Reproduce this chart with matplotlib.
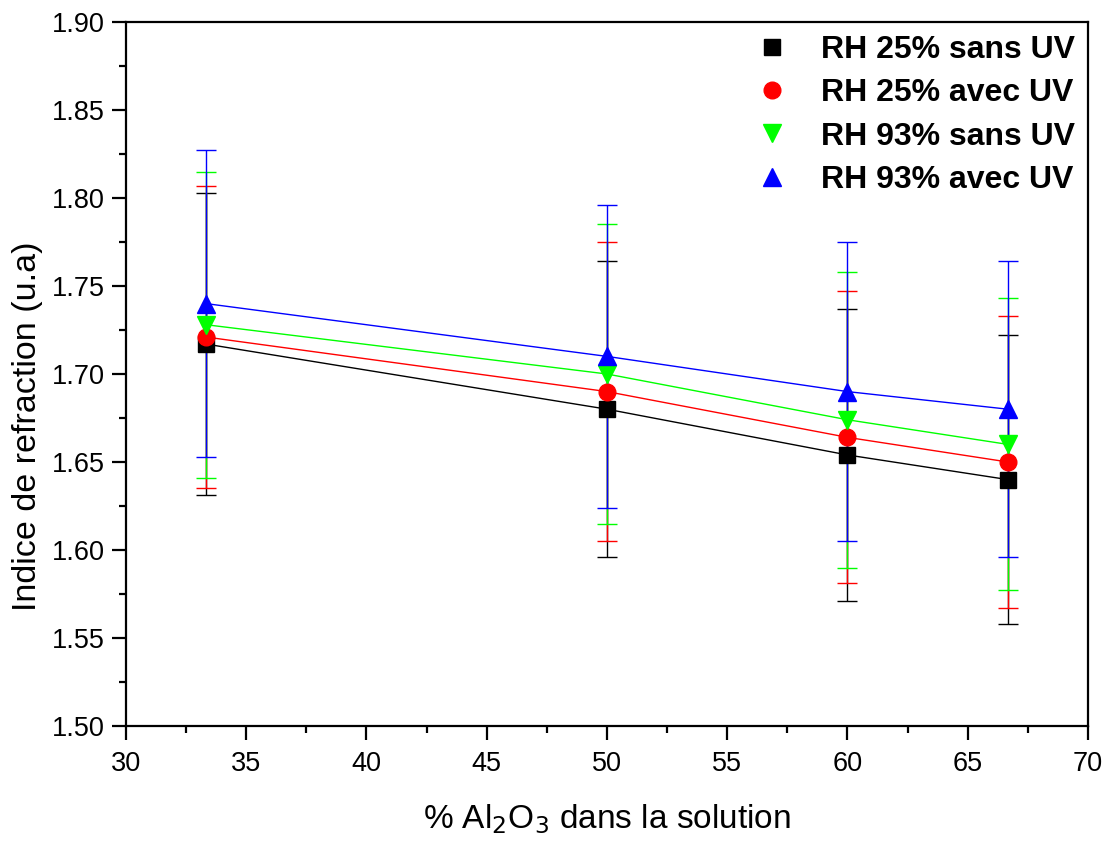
import numpy as np
import matplotlib.pyplot as plt
from matplotlib.ticker import MultipleLocator

plt.rcParams['font.family'] = ['Liberation Sans', 'DejaVu Sans']

# % Al2O3 in solution
x_al2o3 = [33.33, 50.0, 60.0, 66.67]

labels = ['RH 25% sans UV', 'RH 25% avec UV', 'RH 93% sans UV', 'RH 93% avec UV']

rh25_sans = [1.717, 1.680, 1.654, 1.640]
rh25_avec = [1.721, 1.690, 1.664, 1.650]
rh93_sans = [1.728, 1.700, 1.674, 1.660]
rh93_avec = [1.740, 1.710, 1.690, 1.680]

err_rh25_sans = [0.086, 0.084, 0.083, 0.082]
err_rh25_avec = [0.086, 0.085, 0.083, 0.083]
err_rh93_sans = [0.087, 0.085, 0.084, 0.083]
err_rh93_avec = [0.087, 0.086, 0.085, 0.084]

series = [
    (rh25_sans, err_rh25_sans, 'black', 's', 11),
    (rh25_avec, err_rh25_avec, 'red', 'o', 12),
    (rh93_sans, err_rh93_sans, '#00ff00', 'v', 13),
    (rh93_avec, err_rh93_avec, 'blue', '^', 13),
]

fig = plt.figure(figsize=(11.07, 8.43), dpi=100)
ax = fig.add_axes([0.1138, 0.1388, 0.8690, 0.8351])

for (y, err, color, marker, ms), label in zip(series, labels):
    ax.errorbar(x_al2o3, y, yerr=err, fmt='none', ecolor=color, elinewidth=1.0,
                capsize=7, capthick=1.0, zorder=2)
    ax.plot(x_al2o3, y, '-', color=color, lw=1.0, zorder=3)
    ax.plot(x_al2o3, y, linestyle='none', marker=marker, color=color,
            markersize=ms, label=label, zorder=4)

ax.set_xlim(30, 70)
ax.set_ylim(1.50, 1.90)
ax.xaxis.set_major_locator(MultipleLocator(5))
ax.xaxis.set_minor_locator(MultipleLocator(2.5))
ax.yaxis.set_major_locator(MultipleLocator(0.05))
ax.yaxis.set_minor_locator(MultipleLocator(0.025))
ax.yaxis.set_major_formatter(plt.FormatStrFormatter('%.2f'))

for side in ax.spines.values():
    side.set_linewidth(1.6)
ax.tick_params(which='major', direction='out', length=10, width=1.6, labelsize=19.5)
ax.tick_params(axis='x', which='major', pad=8)
ax.tick_params(axis='y', which='major', pad=5)
ax.tick_params(which='minor', direction='out', length=5, width=1.6)

ax.set_xlabel(r'% Al$_2$O$_3$ dans la solution', fontsize=24, labelpad=18)
ax.set_ylabel('Indice de refraction (u.a)', fontsize=24.5)
ax.yaxis.set_label_coords(-0.086, 0.426)

leg = ax.legend(loc='upper right', frameon=False, prop={'weight': 'bold', 'size': 23},
                handletextpad=0.9, labelspacing=0.42, borderaxespad=0.0, handlelength=1.3)

fig.savefig('out.png', dpi=100)
